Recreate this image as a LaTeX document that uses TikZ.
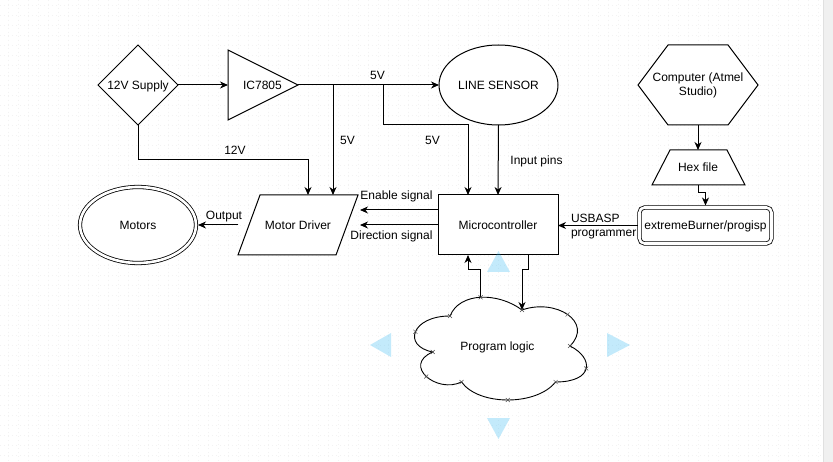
\documentclass[tikz,border=0pt]{standalone}
\usepackage{fontspec}
\setmainfont{Liberation Sans}
\usetikzlibrary{shapes.geometric,arrows.meta,calc}
\definecolor{hintblue}{RGB}{41,182,242}
\definecolor{gridgray}{RGB}{242,242,242}
\definecolor{barbg}{RGB}{240,240,240}
\begin{document}
\begin{tikzpicture}[x=1pt,y=-1pt,
  every node/.style={font=\fontsize{12}{14}\selectfont, inner sep=0pt, outer sep=0pt},
  tx/.style={text height=8.6pt, text depth=0pt},
  shp/.style={draw, line width=1pt, fill=white},
  con/.style={draw, line width=1pt},
  arr/.style={con, -{Stealth[length=8pt,width=7pt,inset=2.5pt]}},
  hint/.style={fill=hintblue, opacity=0.28, draw=none},
  xmk/.style={draw=black!70, line width=0.5pt},
  gridln/.style={draw=gridgray, line width=0.6pt, dash pattern=on 1pt off 3pt}
]
\useasboundingbox (0,0) rectangle (833,462);
\fill[white] (0,0) rectangle (833,462);
\foreach \g in {8,18,...,818} \draw[gridln] (\g,0) -- (\g,462);
\foreach \g in {5,15,...,455} \draw[gridln] (0,\g) -- (823,\g);
\fill[barbg] (823,0) rectangle (833,462);
\draw[black!12] (823,0) -- (823,462);

% shapes
\node[shp, diamond, aspect=1, minimum width=80, minimum height=80, tx] (sup) at (138,85) {12V Supply};

\coordinate (icin) at (228,85);
\coordinate (icout) at (298,85);
\draw[shp] (228,50) -- (icout) -- (228,120) -- cycle;
\node[tx] (ic) at (262.5,85) {IC7805};

\node[shp, ellipse, minimum width=119, minimum height=80, tx] (ls) at (498.5,85) {LINE SENSOR};

\draw[shp] (638,85) -- (668,45) -- (728,45) -- (758,85) -- (728,125) -- (668,125) -- cycle;
\node[minimum width=120, minimum height=80, align=center] (pc) at (698,85) {Computer (Atmel\\Studio)};

\draw[shp] (652,185) -- (670,150) -- (727,150) -- (745,185) -- cycle;
\node[minimum width=93, minimum height=35, tx] (hex) at (698,167.5) {Hex file};

\node[draw, double, double distance=2.6pt, line width=0.8pt, rounded corners=5, fill=white, minimum width=132, minimum height=36, tx] (eb) at (705.5,225.5) {extremeBurner/progisp};

\node[shp, minimum width=120, minimum height=60, tx] (mc) at (498,225) {Microcontroller};

\draw[shp] (238,255) -- (260,195) -- (358,195) -- (336,255) -- cycle;
\node[minimum width=120, minimum height=60, tx] (md) at (298,225) {Motor Driver};

\node[draw, ellipse, double, double distance=2.6pt, line width=0.8pt, fill=white, minimum width=116, minimum height=76, tx] (mo) at (138,225) {Motors};

% cloud
\draw[shp, line width=0.9pt] (450,316)
  .. controls (411.6,316) and (402,346) .. (432.72,352)
  .. controls (402,365.2) and (436.56,394) .. (461.52,382)
  .. controls (478.8,406) and (536.4,406) .. (555.6,382)
  .. controls (594,382) and (594,358) .. (570,346)
  .. controls (594,322) and (555.6,298) .. (522,310)
  .. controls (498,292) and (459.6,292) .. (450,316) -- cycle;
\node[tx] (pl) at (497.5,346.5) {Program logic};
\coordinate (cltop) at (480.6,297.3);
\coordinate (clr) at (522,310);

% connectors
\draw[arr] (sup.east) -- (icin);
\draw[arr] (icout) -- (ls.west);
\coordinate (j1) at (333,85);
\coordinate (j2) at (383,85);
\draw[arr] (j1) -- (j1 |- md.north);
\draw[arr] (j2) |- ($(mc.north)+(-30,-70)$) -- ($(mc.north)+(-30,0)$);
\draw[arr] (ls.south) -- (mc.north);
\draw[arr] (sup.south) |- ($(md.north)+(10,-35)$) -- ($(md.north)+(10,0)$);
\draw[arr] (pc.south) -- (hex.north);
\draw[arr] (hex.south) -- ++(0,8) -| ($(eb.north)+(0,-2)$);
\draw[arr] ($(eb.west)+(-2,0)$) -- (eb.west -| mc.east);
\draw[arr] ($(mc.west)+(0,-15)$) -- ($(md.center)+(62,-15)$);
\draw[arr] (mc.west) -- ($(md.center)+(62,0)$);
\draw[arr] ($(md.center)+(-60,0)$) -- ($(mo.east)+(2,0)$);
\draw[arr] (cltop) |- ($(mc.south)+(-30,15)$) -- ($(mc.south)+(-30,0)$);
\draw[arr] ($(mc.south)+(30,0)$) -- ++(0,15) -| (clr);

% labels
\node[tx] (l5a) at (377.5,75) {5V};
\node[tx] (l5b) at (347.5,140) {5V};
\node[tx] (l5c) at (432.5,140) {5V};
\node[tx] (l12) at (235,150.5) {12V};
\node[tx] (lin) at (536.5,160) {Input pins};
\node[tx] (len) at (396.5,195) {Enable signal};
\node[tx] (ldir) at (391.5,235) {Direction signal};
\node[tx] (lout) at (224,215) {Output};
\node[anchor=west, align=left] (lusb) at (571,227) {USBASP\\programmer};

% cloud connection marks
\foreach \p in {(450,316),(415.4,331.8),(432.7,352),(426.2,376.5),(461.5,382),(507.8,400),(555.6,382),(586.2,368.5),(570,346),(567.6,314.5),(522,310),(480.6,297.3)}
  \draw[xmk] \p +(-2,-2) -- +(2,2) \p +(-2,2) -- +(2,-2);

% hover hints
\fill[hint] (498.5,251) -- (510,272) -- (487,272) -- cycle;
\fill[hint] (498.5,439) -- (510,418) -- (487,418) -- cycle;
\fill[hint] (370,345) -- (391,333) -- (391,357) -- cycle;
\fill[hint] (630,345) -- (607,333) -- (607,357) -- cycle;
\end{tikzpicture}
\end{document}
